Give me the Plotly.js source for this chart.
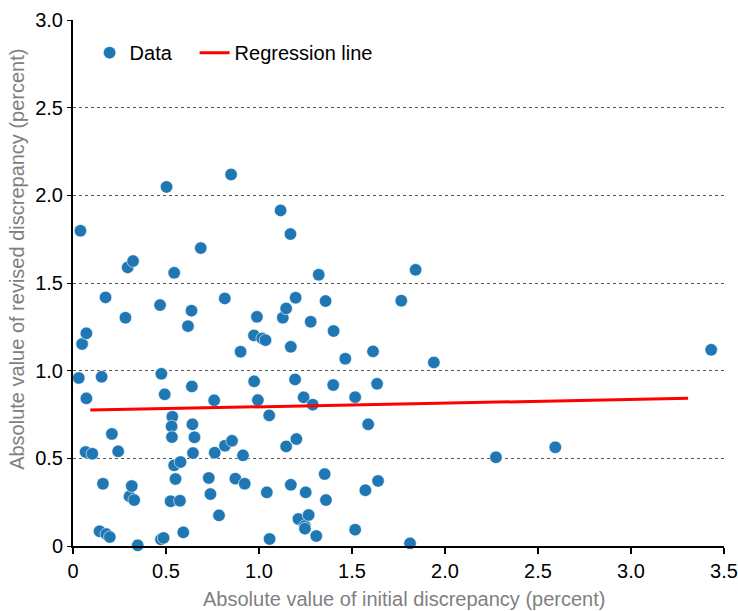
<!DOCTYPE html>
<html>
<head>
<meta charset="utf-8">
<script src="https://cdn.plot.ly/plotly-3.0.1.min.js"></script>
<style>html,body{margin:0;padding:0;background:#fff;}#chart{width:738px;height:611px;}</style>
</head>
<body>
<div id="chart"></div>
<script>
// Data
const initialDiscrepancy = [
  0.040, 0.031, 0.049, 0.072, 0.072, 0.068, 0.104, 0.143, 0.154, 0.161,
  0.175, 0.179, 0.198, 0.209, 0.243, 0.282, 0.294, 0.323, 0.304, 0.316,
  0.329, 0.348, 0.468, 0.473, 0.487, 0.475, 0.493, 0.503, 0.534, 0.530,
  0.532, 0.525, 0.544, 0.544, 0.578, 0.551, 0.575, 0.593, 0.618, 0.637,
  0.639, 0.642, 0.653, 0.645, 0.687, 0.730, 0.739, 0.759, 0.762, 0.785,
  0.816, 0.817, 0.855, 0.850, 0.873, 0.901, 0.914, 0.923, 0.974, 0.973,
  0.989, 1.017, 1.035, 0.994, 1.055, 1.042, 1.057, 1.116, 1.128, 1.146,
  1.146, 1.169, 1.171, 1.171, 1.197, 1.194, 1.201, 1.212, 1.246, 1.247,
  1.267, 1.251, 1.240, 1.278, 1.289, 1.308, 1.321, 1.353, 1.360, 1.358,
  1.401, 1.399, 1.464, 1.517, 1.517, 1.572, 1.587, 1.613, 1.635, 1.640,
  1.812, 1.765, 1.842, 1.940, 2.274, 2.593, 3.431
];
const revisedDiscrepancy = [
  1.798, 0.958, 1.152, 1.213, 0.842, 0.536, 0.526, 0.084, 0.965, 0.355,
  1.418, 0.068, 0.051, 0.639, 0.540, 1.302, 1.589, 1.625, 0.283, 0.342,
  0.262, 0.004, 1.374, 0.038, 0.046, 0.982, 0.865, 2.048, 0.737, 0.682,
  0.621, 0.255, 1.558, 0.460, 0.479, 0.382, 0.258, 0.078, 1.254, 1.342,
  0.910, 0.694, 0.620, 0.530, 1.699, 0.388, 0.296, 0.831, 0.532, 0.175,
  1.412, 0.572, 0.600, 2.119, 0.384, 1.108, 0.517, 0.355, 0.939, 1.201,
  1.307, 1.184, 1.174, 0.832, 0.745, 0.306, 0.040, 1.914, 1.302, 1.355,
  0.568, 1.779, 1.136, 0.349, 1.416, 0.950, 0.610, 0.154, 0.114, 0.099,
  0.177, 0.306, 0.848, 1.279, 0.806, 0.057, 1.547, 0.410, 0.262, 1.397,
  1.226, 0.918, 1.068, 0.093, 0.849, 0.318, 0.694, 1.110, 0.925, 0.371,
  0.015, 1.399, 1.575, 1.047, 0.506, 0.563, 1.119
];
const regressionX = [0.093, 3.307];
const regressionY = [0.775, 0.842];

const xTickValues = [0, 0.5, 1.0, 1.5, 2.0, 2.5, 3.0, 3.5];
const xTickLabels = ["0", "0.5", "1.0", "1.5", "2.0", "2.5", "3.0", "3.5"];
const yTickValues = [0, 0.5, 1.0, 1.5, 2.0, 2.5, 3.0];
const yTickLabels = ["0", "0.5", "1.0", "1.5", "2.0", "2.5", "3.0"];

const xTitle = "Absolute value of initial discrepancy (percent)";
const yTitle = "Absolute value of revised discrepancy (percent)";

const FONT = "Liberation Sans, Arial, sans-serif";

const traces = [
  {
    type: "scatter", mode: "markers", name: "Data",
    x: initialDiscrepancy, y: revisedDiscrepancy,
    marker: {color: "#1f77b4", size: 12.5, line: {color: "#ffffff", width: 0.6}},
    cliponaxis: false, legendwidth: 60
  },
  {
    type: "scatter", mode: "lines", name: "Regression line",
    x: regressionX, y: regressionY,
    line: {color: "#ff0000", width: 3}
  }
];

const layout = {
  width: 738, height: 611,
  margin: {l: 73, r: 14, t: 20, b: 65},
  paper_bgcolor: "#ffffff", plot_bgcolor: "#ffffff",
  font: {family: FONT, size: 20, color: "#000000"},
  showlegend: true,
  legend: {
    orientation: "h", x: 0.0255, y: 0.975, xanchor: "left", yanchor: "top",
    font: {family: FONT, size: 20, color: "#000000"},
    bgcolor: "rgba(0,0,0,0)"
  },
  xaxis: {
    range: [0, 3.5], tickvals: xTickValues, ticktext: xTickLabels,
    showgrid: false, zeroline: false,
    showline: true, linecolor: "#000000", linewidth: 2,
    ticks: "outside", ticklen: 6, tickwidth: 2, tickcolor: "#000000",
    ticklabeloverflow: "allow",
    tickfont: {family: FONT, size: 20, color: "#000000"}
  },
  yaxis: {
    range: [0, 3.0], tickvals: yTickValues, ticktext: yTickLabels,
    showgrid: true, gridcolor: "#555555", gridwidth: 1, griddash: "dot",
    zeroline: false,
    showline: true, linecolor: "#000000", linewidth: 2,
    ticks: "outside", ticklen: 4, tickwidth: 1, tickcolor: "#000000",
    tickfont: {family: FONT, size: 20, color: "#000000"}
  },
  annotations: [
    {text: xTitle, xref: "paper", yref: "paper", x: 0.508, y: -0.1008,
     xanchor: "center", yanchor: "middle", showarrow: false,
     font: {family: FONT, size: 20, color: "#808080"}},
    {text: yTitle, xref: "paper", yref: "paper", x: -0.086, y: 0.544,
     xanchor: "center", yanchor: "middle", textangle: -90, showarrow: false,
     font: {family: FONT, size: 20, color: "#808080"}}
  ]
};

Plotly.newPlot("chart", traces, layout, {displayModeBar: false, staticPlot: true});
</script>
</body>
</html>
